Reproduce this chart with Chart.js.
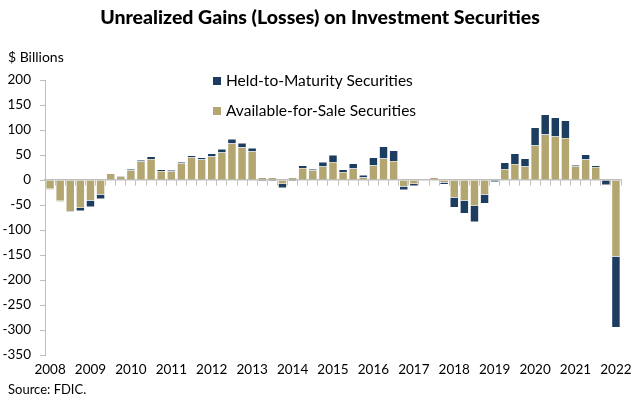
<!DOCTYPE html>
<html>
<head>
<meta charset="utf-8">
<script src="https://cdn.jsdelivr.net/npm/chart.js@4.4.1/dist/chart.umd.min.js"></script>
<style>
  body { margin: 0; background: #fff; font-family: Lato, sans-serif; }
  #wrap { position: relative; width: 640px; height: 401px; }
  #wrap canvas { position: absolute; left: 0; top: 0; }
  .title { position: absolute; left: 0; width: 640px; top: 5px; text-align: center; font-weight: 900; font-size: 19.5px; color: #000; }
  .units { position: absolute; left: 8px; top: 48px; font-size: 14px; color: #000; }
  .source { position: absolute; left: 8px; top: 381px; font-size: 13px; color: #000; }
  .leg { position: absolute; left: 213px; font-size: 15.5px; color: #000; line-height: 20px; }
  .leg span { display: inline-block; width: 8px; height: 8px; margin-right: 5px; vertical-align: 1px; }
</style>
</head>
<body>
<div id="wrap">
  <canvas id="chart" width="640" height="401"></canvas>
  <div class="title">Unrealized Gains (Losses) on Investment Securities</div>
  <div class="units">$ Billions</div>
  <div class="leg" style="top:70px"><span style="background:#1c3d5f"></span>Held-to-Maturity Securities</div>
  <div class="leg" style="top:100px"><span style="background:#b4a670"></span>Available-for-Sale Securities</div>
  <div class="source">Source: FDIC.</div>
</div>
<script>
// tick labels (one per year, shown on Q1)
const years = ['2008', '2009', '2010', '2011', '2012', '2013', '2014', '2015',
  '2016', '2017', '2018', '2019', '2020', '2021', '2022'];

// quarters 2008Q1 .. 2022Q1
const quarters = [];
years.forEach((y) => {
  ['Q1', 'Q2', 'Q3', 'Q4'].forEach((q) => {
    if (y !== '2022' || q === 'Q1') quarters.push(y + q);
  });
});

// $ billions
const availableForSale = [-18, -42, -63, -56, -41, -29, 13, 7, 19, 37, 42, 18,
  17, 33, 45, 41, 47, 55, 73, 65, 57, 5, 5, -8,
  5, 24, 19, 27, 36, 16, 23, 5, 29, 43, 38, -13,
  -8, 1, 5, -5, -35, -41, -52, -29, -1, 22, 32, 27,
  69, 91, 87, 84, 27, 41, 26, -1, -153];

const heldToMaturity = [-1, -1, -2, -6, -13, -9, 0, 2, 3, 3, 5, 3,
  3, 3, 4, 4, 6, 7, 9, 9, 7, -3, -3, -8,
  -3, 5, 3, 9, 14, 5, 10, 5, 16, 24, 21, -7,
  -4, -1, 0, -4, -20, -26, -32, -18, -3, 13, 21, 16,
  36, 40, 38, 35, 3, 10, 3, -9, -142];

const axisGray = '#bfbfbf';
const tickFont = { family: 'Lato', size: 13.5 };

const ctx = document.getElementById('chart').getContext('2d');
new Chart(ctx, {
  type: 'bar',
  data: {
    labels: quarters,
    datasets: [
      {
        label: 'Available-for-Sale Securities',
        data: availableForSale,
        backgroundColor: '#b4a670',
        borderColor: 'rgba(255,255,255,0.7)',
        borderWidth: 0.6,
        barPercentage: 0.86,
        categoryPercentage: 1,
      },
      {
        label: 'Held-to-Maturity Securities',
        data: heldToMaturity,
        backgroundColor: '#1c3d5f',
        borderColor: 'rgba(255,255,255,0.7)',
        borderWidth: 0.6,
        barPercentage: 0.86,
        categoryPercentage: 1,
      },
    ],
  },
  options: {
    responsive: false,
    animation: false,
    layout: { padding: { top: 80, right: 19, bottom: 0, left: 0 } },
    scales: {
      x: {
        stacked: true,
        position: 'bottom',
        grid: { display: false, drawTicks: false },
        border: { display: false },
        ticks: {
          autoSkip: false,
          maxRotation: 0,
          minRotation: 0,
          padding: 7,
          color: '#000',
          font: tickFont,
          callback: function (value) {
            const lbl = this.getLabelForValue(value);
            return lbl.endsWith('Q1') ? lbl.slice(0, 4) : '';
          },
        },
        afterFit: (scale) => { scale.height = 46; },
      },
      // zero line with small tick marks between bars
      x0: {
        type: 'category',
        position: { y: 0 },
        z: 1,
        grid: { drawOnChartArea: false, drawTicks: true, tickLength: 5, offset: true, color: axisGray },
        border: { display: true, color: axisGray, width: 1.5 },
        ticks: { display: false },
      },
      y: {
        stacked: true,
        min: -350,
        max: 200,
        ticks: { stepSize: 50, padding: 9, color: '#000', font: tickFont },
        grid: { drawOnChartArea: false, drawTicks: true, tickLength: 5, color: axisGray },
        border: { display: true, color: axisGray },
        afterFit: (scale) => { scale.width = 45; },
      },
    },
    plugins: {
      legend: { display: false },
      tooltip: { enabled: false },
    },
  },
});
</script>
</body>
</html>
